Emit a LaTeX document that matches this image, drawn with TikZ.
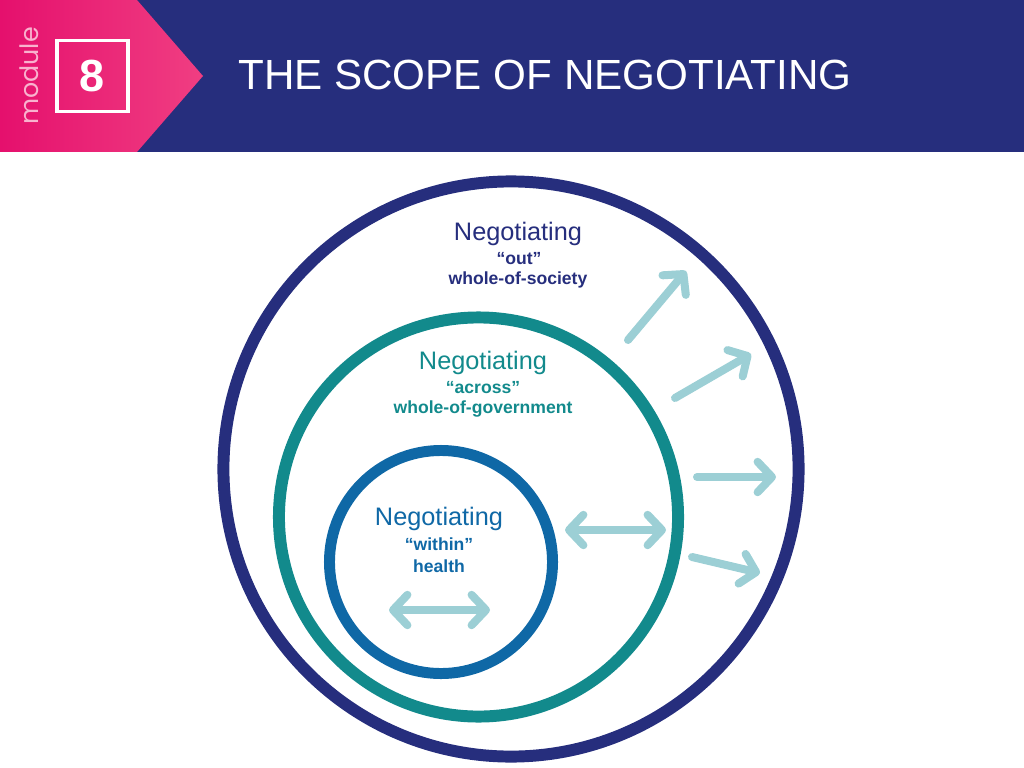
\documentclass[tikz,border=0pt]{standalone}
\usepackage{fontspec}
\setmainfont{Liberation Sans}
\newfontfamily\modfont{Poppins}
\usepackage{tikz}
\usetikzlibrary{arrows.meta, positioning, calc}
\definecolor{navycolor}{RGB}{38, 46, 125}
\definecolor{pinkdeep}{RGB}{229, 16, 109}
\definecolor{pinklight}{RGB}{240, 62, 130}
\definecolor{modcolor}{RGB}{249, 178, 206}
\definecolor{tealcolor}{RGB}{18, 138, 140}
\definecolor{bluecolor}{RGB}{15, 104, 166}
\definecolor{arrowcolor}{RGB}{156, 207, 213}

\tikzset{
  ring/.style={circle, inner sep=0pt, line width=8.5pt},
  headword/.style={inner sep=0pt, font=\fontsize{18}{20}\selectfont},
  subword/.style={inner sep=0pt, font=\bfseries\fontsize{12.5}{14}\selectfont},
  barb/.tip={Straight Barb[length=3.6mm, width=7.6mm, round]},
  spread/.style={draw=arrowcolor, line width=5.7pt, line cap=round, -barb},
  swap/.style={draw=arrowcolor, line width=5.7pt, line cap=round, barb-barb}
}

\begin{document}
\begin{tikzpicture}[x=0.025cm, y=-0.025cm]
\useasboundingbox (0,0) rectangle (1024,768);

\fill[navycolor] (0,0) rectangle (1024,152);
\shade[left color=pinkdeep, right color=pinklight] (0,0) -- (137,0) -- (203,76) -- (137,152) -- (0,152) -- cycle;
\node[rotate=90, text=modcolor, inner sep=0pt, font=\modfont\fontsize{18}{20}\selectfont] (modlabel) at (29,76) {module};
\node[draw=white, line width=2.8pt, minimum size=1.775cm, inner sep=0pt, text=white, font=\bfseries\fontsize{32}{36}\selectfont] (modnum) at (92.5,76) {8};
\node[anchor=west, inner sep=0pt, text=white, font=\fontsize{30}{34}\selectfont] (title) at (238,75) {THE SCOPE OF NEGOTIATING};

\node[ring, draw=navycolor, minimum size=14.375cm] (society) at (511,469) {};
\node[ring, draw=tealcolor, minimum size=9.975cm] (government) at (478.5,517) {};
\node[ring, draw=bluecolor, line width=7.8pt, minimum size=5.575cm] (health) at (441,562) {};

\node[headword, text=navycolor] (outhead) at (518,234) {Negotiating};
\node[subword, text=navycolor] (outword) at (519,259) {“out”};
\node[subword, text=navycolor] (outscope) at (518,280) {whole-of-society};

\node[headword, text=tealcolor] (acrosshead) at (483,363) {Negotiating};
\node[subword, text=tealcolor] (acrossword) at (483,388) {“across”};
\node[subword, text=tealcolor] (acrossscope) at (483,409) {whole-of-government};

\node[headword, text=bluecolor] (withinhead) at (439,519) {Negotiating};
\node[subword, text=bluecolor] (withinword) at (439,544) {“within”};
\node[subword, text=bluecolor] (withinscope) at (439,566) {health};

\coordinate (a1) at (628,340);
\coordinate (b1) at (686,271);
\coordinate (a2) at (675,398);
\coordinate (b2) at (751,354);
\coordinate (a3) at (697,477);
\coordinate (b3) at (776,477);
\coordinate (a4) at (692,557);
\coordinate (b4) at (760,573);
\coordinate (a5) at (565,530);
\coordinate (b5) at (666,530);
\coordinate (a6) at (389,610);
\coordinate (b6) at (490,610);

\draw[spread] (a1) -- (b1);
\draw[spread] (a2) -- (b2);
\draw[spread] (a3) -- (b3);
\draw[spread] (a4) -- (b4);
\draw[swap] (a5) -- (b5);
\draw[swap] (a6) -- (b6);
\end{tikzpicture}
\end{document}
